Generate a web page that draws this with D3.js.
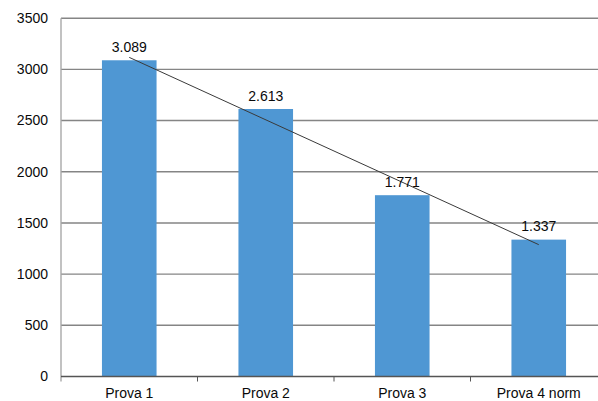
<!DOCTYPE html>
<html>
<head>
<meta charset="utf-8">
<script src="https://cdn.jsdelivr.net/npm/d3@7"></script>
<style>
  html, body { margin: 0; padding: 0; background: #fff; }
  svg { display: block; font-family: "Liberation Sans", Arial, sans-serif; }
</style>
</head>
<body>
<svg id="chart" width="598" height="401"></svg>
<script>
const categories = ["Prova 1", "Prova 2", "Prova 3", "Prova 4 norm"];
const values = [3089, 2613, 1771, 1337];
const yTicks = [0, 500, 1000, 1500, 2000, 2500, 3000, 3500];

const svg = d3.select("#chart");
const plotLeft = 61, plotRight = 607, plotTop = 18.2, plotBottom = 376.5;

const x = d3.scaleBand().domain(categories).range([plotLeft, plotRight]).paddingInner(0.6).paddingOuter(0.3);
const xb = d3.scaleBand().domain(categories).range([plotLeft, plotRight]);
const y = d3.scaleLinear().domain([0, 3500]).range([plotBottom, plotTop]);

const fmt = d3.formatLocale({ decimal: ",", thousands: ".", grouping: [3], currency: ["€", ""] }).format(",d");

// horizontal grid
svg.append("g").selectAll("line").data(yTicks.filter(d => d > 0)).join("line")
  .attr("x1", plotLeft).attr("x2", 598)
  .attr("y1", d => y(d)).attr("y2", d => y(d))
  .attr("stroke", "#858585").attr("stroke-width", 1.4);

// bars
svg.append("g").selectAll("rect").data(values).join("rect")
  .attr("x", (d, i) => x(categories[i]))
  .attr("width", x.bandwidth())
  .attr("y", d => y(d))
  .attr("height", d => y(0) - y(d))
  .attr("fill", "#4f97d3");

// linear trend line (least squares)
const n = values.length;
const xs = values.map((d, i) => i + 1);
const mx = d3.mean(xs), my = d3.mean(values);
const slope = d3.sum(xs, (xi, i) => (xi - mx) * (values[i] - my)) / d3.sum(xs, xi => (xi - mx) ** 2);
const icpt = my - slope * mx;
const cx = i => xb(categories[i]) + xb.bandwidth() / 2;
svg.append("line")
  .attr("x1", cx(0)).attr("y1", y(icpt + slope * 1))
  .attr("x2", cx(n - 1)).attr("y2", y(icpt + slope * n))
  .attr("stroke", "#3a3a3a").attr("stroke-width", 1);

// value labels
svg.append("g").selectAll("text").data(values).join("text")
  .attr("x", (d, i) => cx(i))
  .attr("y", d => y(d) - 8.5)
  .attr("text-anchor", "middle")
  .attr("font-size", 14).attr("fill", "#0a0a0a")
  .text(d => fmt(d));

// y axis
svg.append("line").attr("x1", plotLeft).attr("x2", plotLeft).attr("y1", plotTop).attr("y2", plotBottom + 5)
  .attr("stroke", "#a8a8a8").attr("stroke-width", 1.4);
svg.append("g").selectAll("text").data(yTicks).join("text")
  .attr("x", 48).attr("y", d => y(d)).attr("dy", "0.35em")
  .attr("text-anchor", "end").attr("font-size", 14).attr("fill", "#0a0a0a")
  .text(d => d);

// x axis
svg.append("line").attr("x1", plotLeft).attr("x2", 598).attr("y1", plotBottom).attr("y2", plotBottom)
  .attr("stroke", "#555").attr("stroke-width", 1.4);
svg.append("g").selectAll("line").data(categories.slice(1)).join("line")
  .attr("x1", d => xb(d)).attr("x2", d => xb(d))
  .attr("y1", plotBottom).attr("y2", plotBottom + 5)
  .attr("stroke", "#555");
svg.append("g").selectAll("text").data(categories).join("text")
  .attr("x", (d, i) => cx(i)).attr("y", 397.5)
  .attr("text-anchor", "middle").attr("font-size", 14).attr("fill", "#0a0a0a")
  .text(d => d);
</script>
</body>
</html>
